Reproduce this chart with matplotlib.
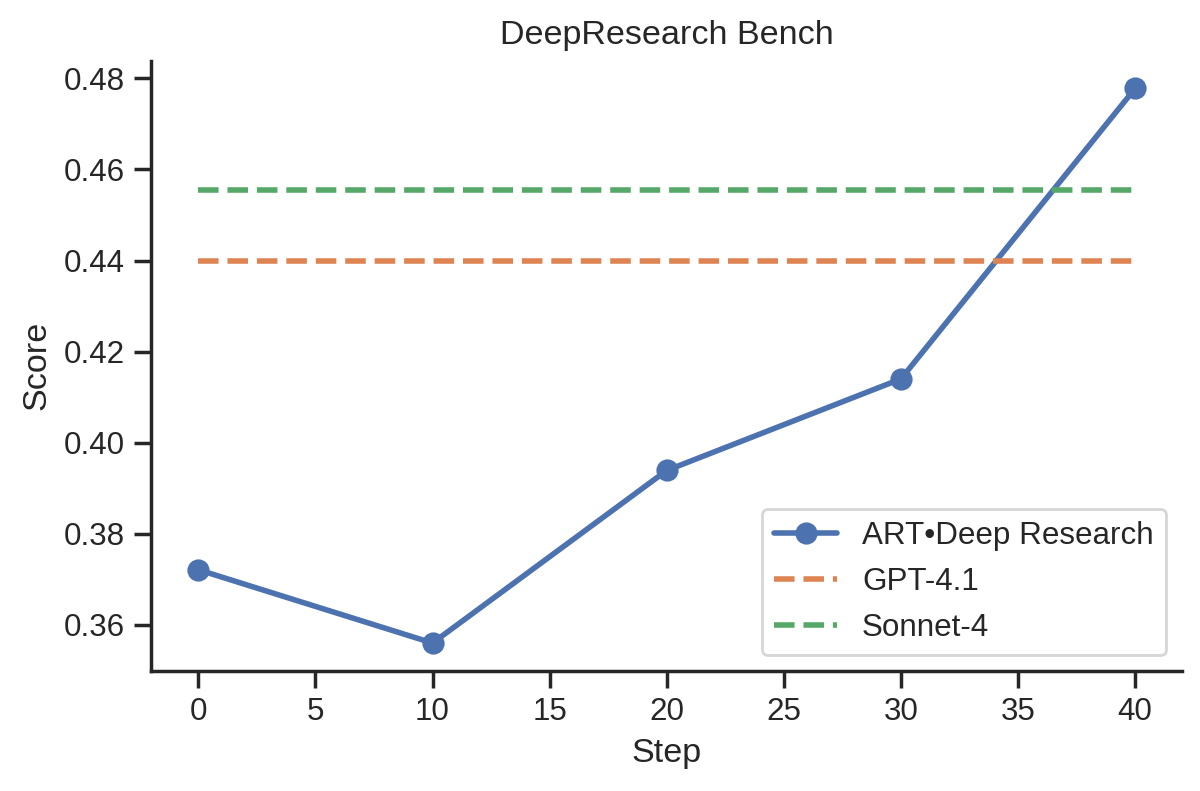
import matplotlib
matplotlib.use("Agg")
import matplotlib.pyplot as plt
import seaborn as sns

steps = [0, 10, 20, 30, 40]
art_scores = [0.3721, 0.3560, 0.3939, 0.4140, 0.4778]
gpt41_score = 0.4399
sonnet4_score = 0.4555
line_x = [0, 40]

sns.set_theme(style="ticks", context="notebook")
plt.rcParams['font.family'] = ['Liberation Sans', 'DejaVu Sans']
plt.rcParams['xtick.labelsize'] = 11.3
plt.rcParams['ytick.labelsize'] = 11.3
plt.rcParams['axes.labelsize'] = 12.3
plt.rcParams['axes.titlesize'] = 12.3
plt.rcParams['legend.fontsize'] = 11.3

fig, ax = plt.subplots(figsize=(6, 3.955), dpi=200)
pal = sns.color_palette("deep")
ax.plot(steps, art_scores, marker="o", lw=2, markersize=7, color=pal[0], label="ART•Deep Research")
ax.plot(line_x, [gpt41_score] * 2, ls="--", lw=2, color=pal[1], label="GPT-4.1")
ax.plot(line_x, [sonnet4_score] * 2, ls="--", lw=2, color=pal[2], label="Sonnet-4")

ax.set_xticks([0, 5, 10, 15, 20, 25, 30, 35, 40])
ax.set_yticks([0.36, 0.38, 0.40, 0.42, 0.44, 0.46, 0.48])
ax.set_xlabel("Step")
ax.set_ylabel("Score")
ax.set_title("DeepResearch Bench")
ax.legend(loc="lower right")
sns.despine(ax=ax)

fig.subplots_adjust(left=0.1262, right=0.985, top=0.9233, bottom=0.152)
fig.savefig("out.png", dpi=200)
